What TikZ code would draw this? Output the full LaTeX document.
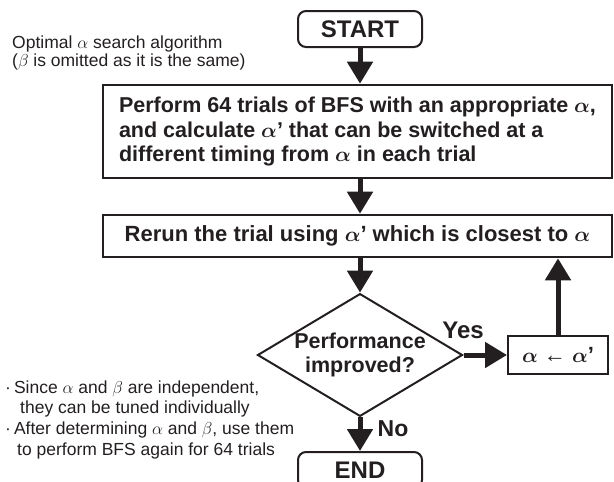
\documentclass[tikz,border=0pt]{standalone}
\usepackage{fontspec}
\setmainfont{Liberation Sans}
\usetikzlibrary{arrows.meta,shapes.geometric}
\definecolor{ink}{RGB}{35,31,32}
\newcommand\fsz[2]{\fontsize{#1}{#2}\selectfont}

\begin{document}
\begin{tikzpicture}[x=1pt,y=-1pt,
  every node/.style={text=ink, inner sep=0pt},
  terminal/.style={draw=ink, line width=2pt, rounded corners=8pt,
    minimum width=124pt, minimum height=36pt, font=\fsz{24}{24}\bfseries},
  process/.style={draw=ink, line width=2.6pt, minimum width=509pt},
  decision/.style={draw=ink, line width=2pt, diamond, shape aspect=1.67,
    minimum width=204pt, minimum height=122pt, align=center,
    font=\fsz{21.5}{24}\bfseries\boldmath},
  update/.style={draw=ink, line width=2pt, minimum width=100pt, minimum height=38pt,
    font=\fsz{22}{22}\bfseries\boldmath},
  note/.style={anchor=base west, font=\fsz{17.5}{18}},
  answer/.style={font=\fsz{24}{24}\bfseries},
  flow/.style={draw=ink, line width=5pt, -{Triangle[width=25pt,length=22pt]}}
]
\useasboundingbox (0,0) rectangle (614,482);

% vertical axis of the main flow
\coordinate (axis) at (360,0);

% side remark
\node[note] (rem1) at (12,48) {Optimal $\alpha$ search algorithm};
\node[note] (rem2) at (12,66) {($\beta$ is omitted as it is the same)};

% flowchart boxes
\node[terminal] (start) at (360,29) {START};
\node[process, minimum height=93pt, align=left,
      font=\fsz{21.5}{24.5}\bfseries\boldmath] (trials) at (357.5,131.5)
  {Perform 64 trials of BFS with an appropriate $\alpha$,\\
   and calculate $\alpha$' that can be switched at a\\
   different timing from $\alpha$ in each trial};
\node[process, minimum height=42pt, font=\fsz{22}{22}\bfseries\boldmath] (rerun) at (357.5,236)
  {Rerun the trial using $\alpha$' which is closest to $\alpha$};
\node[decision] (check) at (360,355) {Performance\\improved?};
\node[update] (upd) at (558,355) {$\alpha$ {\mdseries←} $\alpha$'};
\node[terminal] (stop) at (360,470) {END};

% connectors
\draw[flow] (start.south) -- (start.south |- trials.north);
\draw[flow] (trials.south -| axis) -- (rerun.north -| axis);
\draw[flow] (rerun.south -| axis) -- (check.north);
\draw[flow] (check.east) -- (upd.west);
\draw[flow] (upd.north) -- (upd.north |- rerun.south);
\draw[flow] (check.south) -- (stop.north);

% branch labels
\node[answer] (yes) at (463,330) {Yes};
\node[answer, font=\fsz{23}{23}\bfseries] (no) at (393,429) {No};

% closing remarks
\node[note] (rem3) at (5,393) {·\hspace{3pt}Since $\alpha$ and $\beta$ are independent,};
\node[note] (rem4) at (20,413) {they can be tuned individually};
\node[note] (rem5) at (5,434) {·\hspace{3pt}After determining $\alpha$ and $\beta$, use them};
\node[note] (rem6) at (17,455) {to perform BFS again for 64 trials};
\end{tikzpicture}
\end{document}
